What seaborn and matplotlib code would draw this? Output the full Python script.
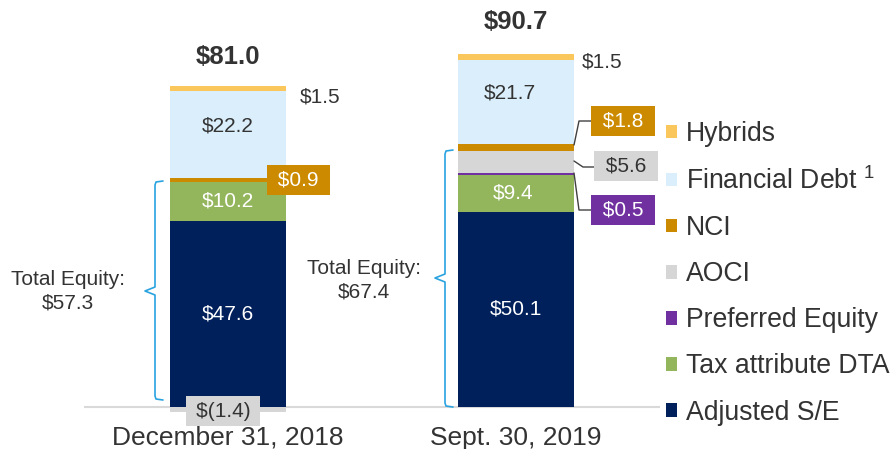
import numpy as np
import pandas as pd
import matplotlib
matplotlib.use("Agg")
import matplotlib.pyplot as plt
from matplotlib.patches import Patch
import seaborn as sns

# --- datos ---
dates = ["December 31, 2018", "Sept. 30, 2019"]
adjusted_se = [47.6, 50.1]
tax_dta = [10.2, 9.4]
preferred = [0.0, 0.5]
aoci = [-1.4, 5.6]
nci = [0.9, 1.8]
financial_debt = [22.2, 21.7]
hybrids = [1.5, 1.5]
totals = [81.0, 90.7]
total_equity = [57.3, 67.4]

segments = ["Adjusted S/E", "Tax attribute DTA", "Preferred Equity", "AOCI",
            "NCI", "Financial Debt", "Hybrids"]
values = [adjusted_se, tax_dta, preferred, aoci, nci, financial_debt, hybrids]
colors = ["#00205B", "#93B55C", "#7030A0", "#D6D6D6", "#CC8A00", "#DAEFFB", "#F9C75C"]

TXT = "#333333"
BLUE = "#29A3E0"

sns.set_theme(style="white")
plt.rcParams["font.family"] = ["Liberation Sans", "DejaVu Sans"]
plt.rcParams["mathtext.fontset"] = "custom"
plt.rcParams["mathtext.rm"] = "Liberation Sans"
plt.rcParams["mathtext.it"] = "Liberation Sans"

fig = plt.figure(figsize=(8.95, 4.49), dpi=100)
ax = fig.add_axes([84 / 895, 30.3 / 449, 576 / 895, 401.7 / 449])

df = pd.DataFrame({"date": dates})
pos_base = np.zeros(len(dates))
neg_base = np.zeros(len(dates))
bottoms = {}
for name, vals, col in zip(segments, values, colors):
    vals = np.array(vals, dtype=float)
    bottom = np.where(vals >= 0, pos_base, neg_base)
    bottoms[name] = bottom
    df[name] = vals
    sns.barplot(data=df, x="date", y=name, order=dates, color=col, width=0.4,
                saturation=1, linewidth=0, bottom=bottom, ax=ax, zorder=2)
    pos_base = pos_base + np.where(vals >= 0, vals, 0)
    neg_base = neg_base + np.where(vals < 0, vals, 0)

ax.axhline(0, color="#D9D9D9", lw=1.5, zorder=1)
ax.set_xlim(-0.5, 1.5)
ax.set_ylim(-3, 100)
ax.set_yticks([])
ax.set_xlabel("")
ax.set_ylabel("")
ax.tick_params(axis="x", length=0, pad=5, labelsize=19, labelcolor=TXT)
for s in ax.spines.values():
    s.set_visible(False)


def mid(name, i):
    return bottoms[name][i] + values[segments.index(name)][i] / 2


# etiquetas dentro de las barras
for i in range(2):
    ax.text(i, mid("Adjusted S/E", i), f"${adjusted_se[i]:.1f}", ha="center", va="center",
            color="white", fontsize=15, zorder=3)
    ax.text(i - 0.01 * i, mid("Tax attribute DTA", i), f"${tax_dta[i]:.1f}", ha="center",
            va="center", color="white", fontsize=15, zorder=3)
    ax.text(i - 0.02 * i, mid("Financial Debt", i) + 2.3, f"${financial_debt[i]:.1f}",
            ha="center", va="center", color=TXT, fontsize=15, zorder=3)
    ax.text(i + 0.25 - 0.02 * i, mid("Hybrids", i) - 2.2 + 0.8 * i, f"${hybrids[i]:.1f}",
            ha="left", va="center", color=TXT, fontsize=15, zorder=3)
    ax.text(i, pos_base[i] + 7.4 + 0.8 * i, f"${totals[i]:.1f}", ha="center",
            va="center", color=TXT, fontsize=18.5, fontweight="bold", zorder=3)

# cajas de valores pequeños
box = dict(boxstyle="square,pad=0.27", lw=0)
ax.text(0.245, mid("NCI", 0), f" ${nci[0]:.1f} ", ha="center", va="center", color="white",
        fontsize=15, bbox={**box, "fc": "#CC8A00"}, zorder=4)
ax.text(-0.017, aoci[0] + 0.3, "\u2009$(1.4)\u2009", ha="center", va="center", color=TXT,
        fontsize=15, bbox={**box, "fc": "#D6D6D6"}, zorder=4)


def px(x, y):
    return 1 + (x - 516) / 288, (407 - y) / 3.9


callouts = [
    (f" ${nci[1]:.1f} ", "#CC8A00", "white", [(574, 145), (579, 121), (591, 121)], (623, 121)),
    (f" ${aoci[1]:.1f} ", "#D6D6D6", TXT, [(574, 161), (583, 167), (594, 167)], (626, 166)),
    (f" ${preferred[1]:.1f} ", "#7030A0", "white", [(574, 173), (579, 210), (591, 210)], (623, 210)),
]
for label, fc, tc, pts, center in callouts:
    xy = np.array([px(*p) for p in pts])
    ax.plot(xy[:, 0], xy[:, 1], color="#404040", lw=1, zorder=3, clip_on=False)
    cx, cy = px(*center)
    ax.text(cx, cy, label, ha="center", va="center", color=tc, fontsize=15,
            bbox={**box, "fc": fc}, zorder=4, clip_on=False)


# llaves de "Total Equity"
def brace(xp, top, bot, midp, w=8, tip=10, r=4):
    pts = [(xp + w, top), (xp + 1, top + 1), (xp, top + r), (xp, midp - r),
           (xp - tip, midp), (xp, midp + r), (xp, bot - r), (xp + 1, bot - 1), (xp + w, bot)]
    xy = np.array([px(*p) for p in pts])
    ax.plot(xy[:, 0], xy[:, 1], color=BLUE, lw=1.2, zorder=3, clip_on=False)


brace(155, 181, 400, 291)
brace(445, 150, 407, 278)

ax.text(*px(68, 291), f"Total Equity:\n${total_equity[0]:.1f}", ha="center", va="center",
        color=TXT, fontsize=15, linespacing=1.3, clip_on=False)
ax.text(*px(364, 280), f"Total Equity:\n${total_equity[1]:.1f}", ha="center", va="center",
        color=TXT, fontsize=15, linespacing=1.3, clip_on=False)

# leyenda
handles = [Patch(facecolor=c, edgecolor="none") for c in colors[::-1]]
labels = [s if s != "Financial Debt" else r"Financial Debt $^{1}$" for s in segments[::-1]]
fig.legend(handles, labels, loc="upper left", bbox_to_anchor=(666 / 895, 1 - 121 / 449),
           frameon=False, fontsize=19.2, handlelength=0.42, handleheight=0.42,
           handletextpad=0.33, labelspacing=0.755, borderpad=0, borderaxespad=0,
           labelcolor=TXT)

fig.savefig("out.png", dpi=100)
